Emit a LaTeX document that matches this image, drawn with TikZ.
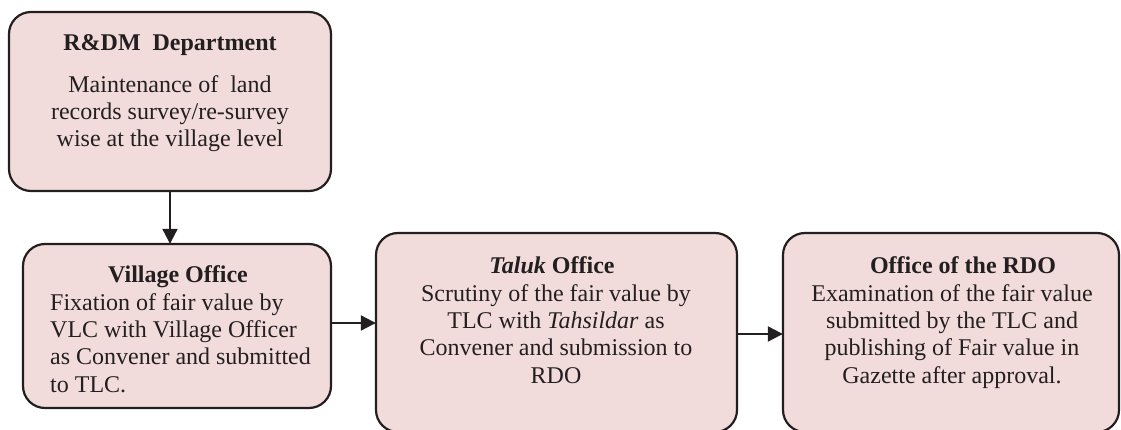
\documentclass[tikz,border=0pt]{standalone}
\usepackage{fontspec}
\setmainfont{Liberation Serif}
\usetikzlibrary{arrows.meta}
\definecolor{boxfill}{HTML}{F2DCDB}
\definecolor{boxline}{HTML}{231F20}
\tikzset{
  pbox/.style={draw=boxline, fill=boxfill, line width=2.2pt, rounded corners=22pt},
  txt/.style={inner sep=0pt, font=\fontsize{24}{27.3}\selectfont, text=boxline},
  conn/.style={draw=boxline, line width=2.2pt, -{Triangle[length=15pt,width=15pt]}},
}
\begin{document}
\begin{tikzpicture}[x=1pt,y=-1pt]
\useasboundingbox (0,0) rectangle (1121,430);
\clip (0,0) rectangle (1121,430);
% boxes
\draw[pbox] (9,12) rectangle (331,191);
\node[inner sep=0pt] (b1) at (170,101.5) [minimum width=322pt, minimum height=179pt] {};
\draw[pbox] (23,244) rectangle (331,408);
\node[inner sep=0pt] (b2) at (177,326) [minimum width=308pt, minimum height=164pt] {};
\draw[pbox] (376,233) rectangle (737,432);
\node[inner sep=0pt] (b3) at (556.5,332.5) [minimum width=361pt, minimum height=199pt] {};
\draw[pbox] (783,233) rectangle (1119,432);
\node[inner sep=0pt] (b4) at (951,332.5) [minimum width=336pt, minimum height=199pt] {};
% texts
\node[txt, anchor=base] (t1) at (170,51) {\textbf{R\&DM\ \ Department}};
\node[txt, anchor=base, align=center] (t1b) at (170,147) {Maintenance of\ \ land\\records survey/re-survey\\wise at the village level};
\node[txt, anchor=base] (t2) at (178,282) {\textbf{Village Office}};
\node[txt, anchor=base west, align=left] (t2b) at (50,392) {Fixation of fair value by\\VLC with Village Officer\\as Convener and submitted\\to TLC.};
\node[txt, anchor=base] (t3) at (552,273) {\textbf{\textit{Taluk} Office}};
\node[txt, anchor=base, align=center] (t3b) at (556,383) {Scrutiny of the fair value by\\TLC with \textit{Tahsildar} as\\Convener and submission to\\RDO};
\node[txt, anchor=base] (t4) at (963,273) {\textbf{Office of the RDO}};
\node[txt, anchor=base, align=center] (t4b) at (952,383) {Examination of the fair value\\submitted by the TLC and\\publishing of Fair value in\\Gazette after approval.};
% connectors
\draw[conn] (b1.south) -- (b2.north -| b1.south);
\draw[conn] (b2.east |- 0,323) -- (b3.west |- 0,323);
\draw[conn] (b3.east |- 0,334) -- (b4.west |- 0,334);
\end{tikzpicture}
\end{document}
